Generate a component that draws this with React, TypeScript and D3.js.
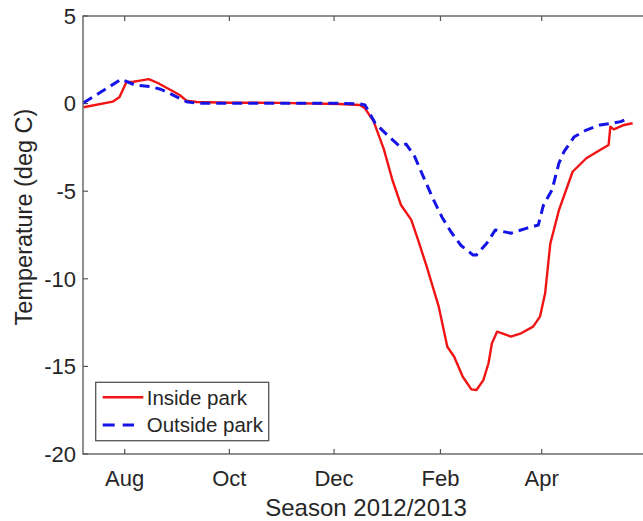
import * as d3 from "d3";

// Season 2012/2013 daily temperature
const insideDates = [
  "2012-07-08", "2012-07-25", "2012-07-29", "2012-08-02", "2012-08-06", "2012-08-09",
  "2012-08-15", "2012-08-20", "2012-08-27", "2012-09-02", "2012-09-06", "2012-09-12",
  "2012-10-01", "2012-10-30", "2012-12-04", "2012-12-16", "2012-12-19", "2012-12-24",
  "2012-12-30", "2013-01-04", "2013-01-09", "2013-01-15", "2013-01-19", "2013-01-24",
  "2013-01-31", "2013-02-05", "2013-02-09", "2013-02-14", "2013-02-19", "2013-02-22",
  "2013-02-26", "2013-03-01", "2013-03-03", "2013-03-06", "2013-03-09", "2013-03-14",
  "2013-03-20", "2013-03-27", "2013-03-31", "2013-04-03", "2013-04-06", "2013-04-11",
  "2013-04-19", "2013-04-27", "2013-05-05", "2013-05-10", "2013-05-11", "2013-05-13",
  "2013-05-19", "2013-05-24",
];
const insideTemps = [
  -0.21, 0.11, 0.38, 1.23, 1.25, 1.3,
  1.4, 1.19, 0.82, 0.49, 0.17, 0.09,
  0.05, 0.04, -0.02, -0.08, -0.27, -1.0,
  -2.6, -4.36, -5.79, -6.64, -7.79, -9.31,
  -11.59, -13.88, -14.45, -15.59, -16.31, -16.35,
  -15.78, -14.82, -13.68, -13.02, -13.11, -13.3,
  -13.11, -12.73, -12.16, -10.83, -8.0, -6.1,
  -3.89, -3.12, -2.65, -2.36, -1.32, -1.47,
  -1.22, -1.12,
];

const outsideDates = [
  "2012-07-08", "2012-07-17", "2012-07-30", "2012-08-07", "2012-08-16", "2012-08-22",
  "2012-08-27", "2012-09-02", "2012-09-06", "2012-09-12", "2012-10-01", "2012-12-04",
  "2012-12-16", "2012-12-19", "2012-12-25", "2013-01-02", "2013-01-08", "2013-01-12",
  "2013-01-17", "2013-01-22", "2013-01-28", "2013-02-02", "2013-02-07", "2013-02-13",
  "2013-02-20", "2013-02-22", "2013-02-25", "2013-02-28", "2013-03-05", "2013-03-14",
  "2013-03-23", "2013-03-30", "2013-04-02", "2013-04-07", "2013-04-11", "2013-04-14",
  "2013-04-20", "2013-04-27", "2013-05-05", "2013-05-12", "2013-05-17", "2013-05-22",
];
const outsideTemps = [
  0.05, 0.59, 1.39, 1.06, 0.97, 0.82,
  0.59, 0.3, 0.11, 0.02, 0.02, 0.02,
  -0.02, -0.08, -1.12, -1.89, -2.42, -2.31,
  -3.03, -4.17, -5.5, -6.5, -7.3, -8.1,
  -8.64, -8.64, -8.3, -7.97, -7.21, -7.4,
  -7.12, -6.93, -5.8, -4.93, -3.41, -2.74,
  -1.89, -1.51, -1.22, -1.12, -1.03, -0.84,
];

const monthTicks = ["2012-08-01", "2012-10-01", "2012-12-01", "2013-02-01", "2013-04-01"];
const monthLabels = ["Aug", "Oct", "Dec", "Feb", "Apr"];
const tempTicks = [-20, -15, -10, -5, 0, 5];

const width = 643;
const height = 521;
const left = 83;
const top = 16;
const bottom = 454;
const right = 700; // axes box runs past the picture's right edge

const font = "Arial, 'Liberation Sans', Helvetica, sans-serif";
const axisColor = "#555";
const red = "#f01414";
const blue = "#1414e6";

const parse = d3.utcParse("%Y-%m-%d");

const App = () => {
  const x = d3
    .scaleUtc()
    .domain([parse("2012-08-01")!, parse("2013-04-01")!])
    .range([124.7, 541.7]);
  const y = d3.scaleLinear().domain([-20, 5]).range([bottom, top]);

  const inside = insideDates.map((d, i) => ({ date: parse(d)!, value: insideTemps[i] }));
  const outside = outsideDates.map((d, i) => ({ date: parse(d)!, value: outsideTemps[i] }));

  const line = d3
    .line<{ date: Date; value: number }>()
    .x((d) => x(d.date))
    .y((d) => y(d.value));

  return (
    <div style={{ position: "absolute", left: 0, top: 0 }}>
      <svg width={width} height={height} viewBox={`0 0 ${width} ${height}`} style={{ display: "block", background: "#fff" }}>
        <g fontFamily={font} fill="#262626">
          {/* ticks, inward */}
          {tempTicks.map((t) => (
            <g key={t}>
              <line x1={left} x2={left + 5} y1={y(t)} y2={y(t)} stroke={axisColor} strokeWidth={1.2} />
              <text x={left - 7} y={y(t)} dy="0.35em" textAnchor="end" fontSize={22}>
                {t}
              </text>
            </g>
          ))}
          {monthTicks.map((m, i) => (
            <g key={m}>
              <line x1={x(parse(m)!)} x2={x(parse(m)!)} y1={bottom} y2={bottom - 5} stroke={axisColor} strokeWidth={1.2} />
              <line x1={x(parse(m)!)} x2={x(parse(m)!)} y1={top} y2={top + 5} stroke={axisColor} strokeWidth={1.2} />
              <text x={x(parse(m)!)} y={486} textAnchor="middle" fontSize={22}>
                {monthLabels[i]}
              </text>
            </g>
          ))}
          <text x={366} y={516} textAnchor="middle" fontSize={24}>
            Season 2012/2013
          </text>
          <text transform={`translate(32,217) rotate(-90)`} textAnchor="middle" fontSize={23.5}>
            Temperature (deg C)
          </text>
        </g>

        <path d={line(inside) ?? ""} fill="none" stroke={red} strokeWidth={2.4} strokeLinejoin="round" />
        <path
          d={line(outside) ?? ""}
          fill="none"
          stroke={blue}
          strokeWidth={3}
          strokeDasharray="10 6"
          strokeLinejoin="round"
        />

        {/* axes box */}
        <rect x={left} y={top} width={right - left} height={bottom - top} fill="none" stroke={axisColor} strokeWidth={1.3} />

        {/* legend */}
        <g fontFamily={font} fontSize={20.5} fill="#262626">
          <rect x={95.7} y={382.3} width={173} height={58.4} fill="#fff" stroke={axisColor} strokeWidth={1.3} />
          <line x1={102.7} x2={143.3} y1={397.3} y2={397.3} stroke={red} strokeWidth={2.4} />
          <line x1={102.7} x2={134} y1={425} y2={425} stroke={blue} strokeWidth={3} strokeDasharray="12 8" />
          <text x={146.7} y={404.5}>Inside park</text>
          <text x={146.7} y={432.2}>Outside park</text>
        </g>
      </svg>
    </div>
  );
};

export default App;
